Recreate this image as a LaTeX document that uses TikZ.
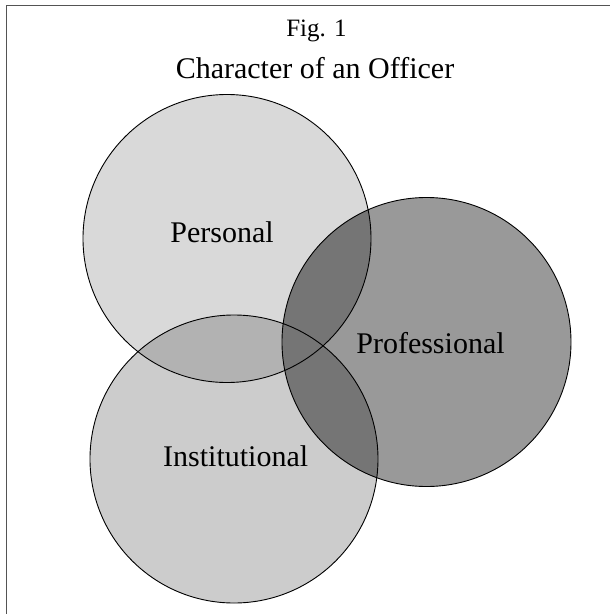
\documentclass[tikz,border=0pt]{standalone}
\usepackage{fontspec}
\setmainfont{Liberation Serif}
\definecolor{cP}{gray}{0.851}
\definecolor{cI}{gray}{0.8}
\definecolor{cR}{gray}{0.6}
\definecolor{cPI}{gray}{0.70}
\definecolor{cX}{gray}{0.46}
\definecolor{frameC}{gray}{0.33}
\tikzset{
  lbl/.style={anchor=base, inner sep=0pt, font=\fontsize{30}{32}\selectfont},
  ring/.style={draw=black, line width=0.9pt},
}
\begin{document}
\begin{tikzpicture}[x=1pt,y=-1pt]
\useasboundingbox (0,0) rectangle (610,614);
\coordinate (cp) at (227,238.5);
\coordinate (cr) at (426.5,342);
\coordinate (ci) at (234,459);
\draw[frameC, line width=1.4pt] (6.5,640) -- (6.5,5.5) -- (640,5.5);
\fill[cP] (cp) circle (144);
\fill[cI] (ci) circle (144);
\fill[cR] (cr) circle (144.5);
\begin{scope}
  \clip (cp) circle (144);
  \fill[cPI] (ci) circle (144);
\end{scope}
\begin{scope}
  \clip (cr) circle (144.5);
  \fill[cX] (cp) circle (144);
  \fill[cX] (ci) circle (144);
\end{scope}
\draw[ring] (cp) circle (144);
\draw[ring] (ci) circle (144);
\draw[ring] (cr) circle (144.5);
\node[lbl, font=\fontsize{25}{27}\selectfont] (fig) at (316.5,36) {Fig. 1};
\node[lbl] (title) at (315,78) {Character of an Officer};
\node[lbl] (personal) at (222,242.3) {Personal};
\node[lbl] (professional) at (430.5,353.3) {Professional};
\node[lbl] (institutional) at (235.7,466.7) {Institutional};
\end{tikzpicture}
\end{document}
